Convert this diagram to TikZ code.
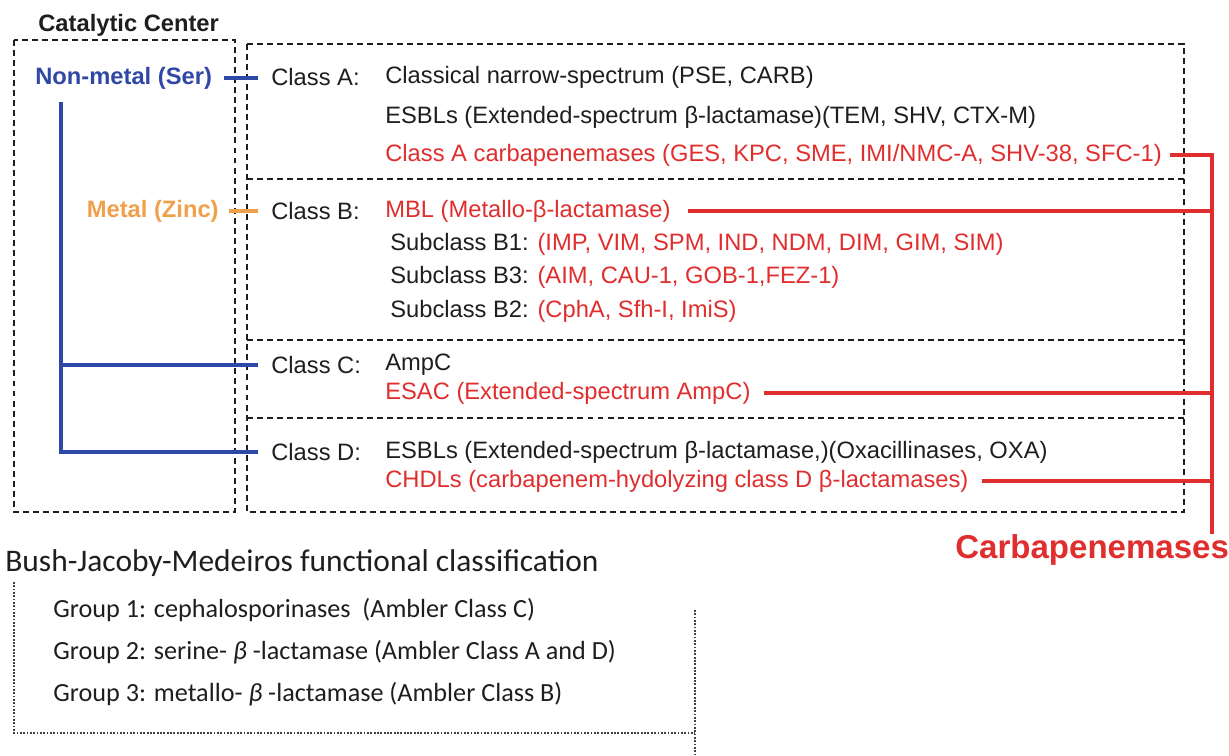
\documentclass[tikz,border=0pt]{standalone}
\usepackage{fontspec}
\setmainfont{Liberation Sans}
\newfontfamily\bjmfont{Carlito}
\usetikzlibrary{calc}
\definecolor{ink}{RGB}{30,30,30}
\definecolor{carb}{RGB}{224,45,45}
\definecolor{ser}{RGB}{48,72,165}
\definecolor{zinc}{RGB}{240,160,75}
\tikzset{
  txt/.style={anchor=west, inner sep=0pt, text=ink, font=\fontsize{13.5}{16}\selectfont},
  redtxt/.style={txt, text=carb},
  boldtxt/.style={txt, font=\fontsize{13.5}{16}\selectfont\bfseries},
  bjm/.style={anchor=west, inner sep=0pt, text=ink, font=\bjmfont\fontsize{14.9}{17}\selectfont},
  box/.style={ink, line width=0.8pt, dash pattern=on 3.4pt off 2.3pt},
  dotbox/.style={ink!85, line width=1pt, dash pattern=on 1pt off 0.9pt},
  serline/.style={ser, line width=2.2pt},
  zincline/.style={zinc, line width=2.2pt},
  carbline/.style={carb, line width=2.2pt},
}

\begin{document}
\begin{tikzpicture}[x=0.02cm, y=-0.02cm]
  \useasboundingbox (0,0) rectangle (1229,755);
  % catalytic center
  \node[boldtxt] (cat) at (38,25) {Catalytic Center};
  \draw[box] (14,40) rectangle (235,512);
  \node[boldtxt, text=ser] (nonmetal) at (35,78) {Non-metal (Ser)};
  \node[boldtxt, text=zinc, anchor=east] (metal) at (219,211) {Metal (Zinc)};
  % Ambler classes
  \draw[box] (247,44) rectangle (1184,512);
  \foreach \y in {179,340,418}
    \draw[box] (247,\y) -- (1184,\y);
  \node[txt] (classA) at (271,77) {Class A:};
  \node[txt] (narrow) at (385,77) {Classical narrow-spectrum (PSE, CARB)};
  \node[txt] (esblA) at (385,117) {ESBLs (Extended-spectrum β-lactamase)(TEM, SHV, CTX-M)};
  \node[redtxt] (carbA) at (385,155) {Class A carbapenemases (GES, KPC, SME, IMI/NMC-A, SHV-38, SFC-1)};
  \node[txt] (classB) at (271,211) {Class B:};
  \node[redtxt] (mbl) at (385,211) {MBL (Metallo-β-lactamase)};
  \node[txt] (subB1) at (390,244) {Subclass B1: \textcolor{carb}{(IMP, VIM, SPM, IND, NDM, DIM, GIM, SIM)}};
  \node[txt] (subB3) at (390,277) {Subclass B3: \textcolor{carb}{(AIM, CAU-1, GOB-1,FEZ-1)}};
  \node[txt] (subB2) at (390,311) {Subclass B2: \textcolor{carb}{(CphA, Sfh-I, ImiS)}};
  \node[txt] (classC) at (271,365) {Class C:};
  \node[txt] (ampc) at (385,365) {AmpC};
  \node[redtxt] (esac) at (385,393) {ESAC (Extended-spectrum AmpC)};
  \node[txt] (classD) at (271,452) {Class D:};
  \node[txt] (esblD) at (385,452) {ESBLs (Extended-spectrum β-lactamase,)(Oxacillinases, OXA)};
  \node[redtxt] (chdl) at (385,481) {CHDLs (carbapenem-hydolyzing class D β-lactamases)};
  \node[boldtxt, text=carb, font=\fontsize{18.8}{22}\selectfont\bfseries] (carbtitle) at (955,550) {Carbapenemases};
  % connectors
  \coordinate (spine) at (61,0);
  \coordinate (bus) at (1212,0);
  \draw[serline, shorten <=0.24cm, shorten >=0.26cm] (nonmetal.east) -- (nonmetal.east -| classA.west);
  \draw[zincline, shorten <=0.2cm, shorten >=0.26cm] (metal.east) -- (metal.east -| classB.west);
  \draw[serline, shorten <=0.26cm, shorten >=0.26cm] (nonmetal.south -| spine) |- (classD.west);
  \draw[serline, shorten >=0.26cm] (spine |- classC.west) -- (classC.west);
  \draw[carbline, shorten <=0.16cm] (carbA.east) -| (carbtitle.north -| bus);
  \draw[carbline, shorten <=0.34cm] (mbl.east) -- (mbl.east -| bus);
  \draw[carbline, shorten <=0.26cm] (esac.east) -- (esac.east -| bus);
  \draw[carbline, shorten <=0.26cm] (chdl.east) -- (chdl.east -| bus);
  % Bush-Jacoby-Medeiros
  \node[bjm, font=\bjmfont\fontsize{17.9}{21}\selectfont] (bjmtitle) at (5,563) {Bush-Jacoby-Medeiros functional classification};
  \node[bjm] (grp1) at (53,610) {Group 1: cephalosporinases \ (Ambler Class C)};
  \node[bjm] (grp2) at (53,652) {Group 2: serine- {\itshape β} -lactamase (Ambler Class A and D)};
  \node[bjm] (grp3) at (53,694) {Group 3: metallo- {\itshape β} -lactamase (Ambler Class B)};
  \draw[dotbox] (14,582) -- (14,733) -- (695,733);
  \draw[dotbox] (695,610) -- (695,755);
\end{tikzpicture}
\end{document}
